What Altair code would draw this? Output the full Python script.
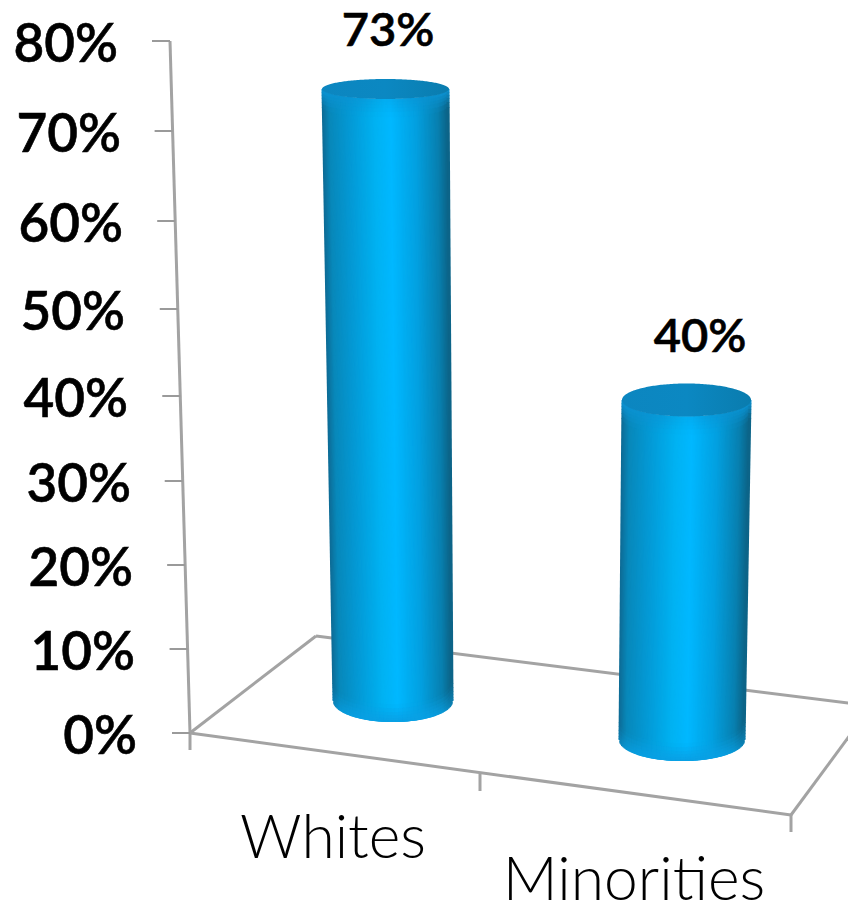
import altair as alt
import numpy as np
import pandas as pd

categories = ["Whites", "Minorities"]
values = [73, 40]
tick_values = [0, 10, 20, 30, 40, 50, 60, 70, 80]
tick_labels = ["0%", "10%", "20%", "30%", "40%", "50%", "60%", "70%", "80%"]

# perspective of the value axis, in page pixels
AXIS_Y = [733, 649, 565, 481, 396, 309, 221, 131, 41]
AXIS_X0, AXIS_X80 = 190, 170


def value_y(v):
    return float(np.interp(v, tick_values, AXIS_Y))


def axis_x(v):
    return AXIS_X0 + (AXIS_X80 - AXIS_X0) * (value_y(0) - value_y(v)) / (value_y(0) - value_y(80))


# cylinder geometry: depth shift of top, top cx/rx/ry, bottom cx/cy/rx/ry
BARS = [
    dict(shift=-15, tcx=385.5, trx=62.5, try_=10, bcx=393, bcy=701, brx=59, bry=21),
    dict(shift=4, tcx=686.5, trx=63.5, try_=16.5, bcx=682, bcy=740, brx=62, bry=21),
]

STOPS_T = [-1, -0.88, -0.55, -0.15, 0.1, 0.5, 0.85, 1]
STOPS_RGB = np.array([
    [14, 108, 150], [8, 136, 186], [4, 154, 214], [0, 178, 242],
    [0, 184, 255], [3, 160, 224], [8, 128, 176], [12, 100, 136],
], dtype=float)


def hexc(rgb):
    return "#%02x%02x%02x" % tuple(int(round(c)) for c in rgb)


def side_rgb(t):
    return np.array([np.interp(t, STOPS_T, STOPS_RGB[:, k]) for k in range(3)])


TOP_RIM = np.array([12, 147, 211.0])
BOT_RIM = np.array([10, 160, 228.0])
segments, caps = [], []
for i, (v, b) in enumerate(zip(values, BARS)):
    tcy = value_y(v) + b["shift"]
    for t in np.linspace(-1, 1, 150):
        h = np.sqrt(max(0, 1 - t * t))
        xa = b["tcx"] + b["trx"] * t
        ya = tcy + b["try_"] * h
        xb = b["bcx"] + b["brx"] * t
        yb = b["bcy"] + b["bry"] * h
        base = side_rgb(t)
        total = yb - ya
        edges = [0, 3, 6, 9, 13, 18] + [total - d for d in [18, 14, 10, 7, 4, 2, 0]]
        for d0, d1 in zip(edges[:-1], edges[1:]):
            mid = (d0 + d1) / 2
            wt = max(0, 1 - mid / 18) * (0.25 + 0.75 * abs(t))
            wb = max(0, 1 - (total - mid) / 18) * (1 - 0.6 * t ** 4)
            col = base * (1 - wt) + TOP_RIM * wt
            col = col * (1 - wb) + BOT_RIM * wb
            segments.append(dict(
                x=xa + (xb - xa) * d0 / total, y=ya + d0,
                x2=xa + (xb - xa) * d1 / total, y2=ya + d1 + (0.6 if d1 < total else 0),
                c=hexc(col),
            ))
    for u in np.linspace(0, np.pi, 120):
        t = -np.cos(u)
        caps.append(dict(bar=categories[i], x=b["tcx"] + (b["trx"] + 1) * t,
                         y=tcy - b["try_"] * np.sin(u), y2=tcy + b["try_"] * np.sin(u)))

seg_df = pd.DataFrame(segments)
cap_df = pd.DataFrame(caps)

# floor and axes lines (clipped at the right edge of the drawing)
FLOOR = [
    (316, 636, 856, 704),
    (190, 733, 316, 636),
    (190, 733, 791, 815),
    (791, 815, 856, 727),
    (190, 733, 190, 750),
    (480, 774, 480, 791),
    (791, 815, 791, 832),
    (AXIS_X0, 733, AXIS_X80, 41),
]
back_df = pd.DataFrame([FLOOR[0]], columns=["x", "y", "x2", "y2"])
line_df = pd.DataFrame(FLOOR[1:], columns=["x", "y", "x2", "y2"])
tick_df = pd.DataFrame([
    dict(x=axis_x(v) - 18, x2=axis_x(v), y=value_y(v)) for v in tick_values
])

label_right = [137, 135, 133, 131, 128, 125, 123, 121, 118]
tick_text_df = pd.DataFrame(dict(
    text=tick_labels, x=label_right, y=[value_y(v) + 5 for v in tick_values]
))
data_label_df = pd.DataFrame(dict(
    text=[f"{v}%" for v in values], x=[388, 700], y=[32, 338]
))
cat_df = pd.DataFrame(dict(text=categories, x=[333, 634], y=[858, 900]))

X = alt.X("x:Q", scale=alt.Scale(domain=[8, 848], range=[0, 840]), axis=None)
Y = alt.Y("y:Q", scale=alt.Scale(domain=[8, 901], range=[0, 893]), axis=None)
enc_line = dict(x=X, y=Y, x2="x2:Q", y2="y2:Q")

back = alt.Chart(back_df).mark_rule(color="#a3a3a3", strokeWidth=3).encode(**enc_line)
lines = alt.Chart(line_df).mark_rule(color="#a3a3a3", strokeWidth=3).encode(**enc_line)
ticks = alt.Chart(tick_df).mark_rule(color="#9a9a9a", strokeWidth=2).encode(x=X, y=Y, x2="x2:Q")

sides = alt.Chart(seg_df).mark_rule(strokeWidth=3).encode(
    x=X, y=Y, x2="x2:Q", y2="y2:Q", color=alt.Color("c:N", scale=None)
)
top_fill = alt.Gradient(
    gradient="linear", x1=0, x2=1, y1=0, y2=0,
    stops=[
        alt.GradientStop(color="#0c86c0", offset=0),
        alt.GradientStop(color="#0b88c2", offset=0.5),
        alt.GradientStop(color="#0a7cae", offset=1),
    ],
)
top_caps = alt.Chart(cap_df).mark_area(fill=top_fill, line=False).encode(
    x=X, y=Y, y2="y2:Q", detail="bar:N"
)

tick_text = alt.Chart(tick_text_df).mark_text(
    align="right", baseline="middle", font="Lato", fontSize=53, fontWeight=600,
    color="#000000", stroke="#000000", strokeWidth=0.6
).encode(x=X, y=Y, text="text:N")
data_text = alt.Chart(data_label_df).mark_text(
    align="center", baseline="middle", font="Lato", fontSize=47, fontWeight=600,
    color="#000000", stroke="#000000", strokeWidth=0.6
).encode(x=X, y=Y, text="text:N")
cat_text = alt.Chart(cat_df).mark_text(
    align="center", baseline="alphabetic", font="Lato", fontSize=60.5, fontWeight=300, color="#000000"
).encode(x=X, y=Y, text="text:N")

chart = alt.layer(
    back, lines, ticks, sides, top_caps, tick_text, data_text, cat_text
).properties(
    width=840, height=893, padding=0, autosize=alt.AutoSizeParams(type="none"), background="white"
).configure_view(stroke=None)

chart.save("out.html", embed_options={"renderer": "svg", "actions": False})
